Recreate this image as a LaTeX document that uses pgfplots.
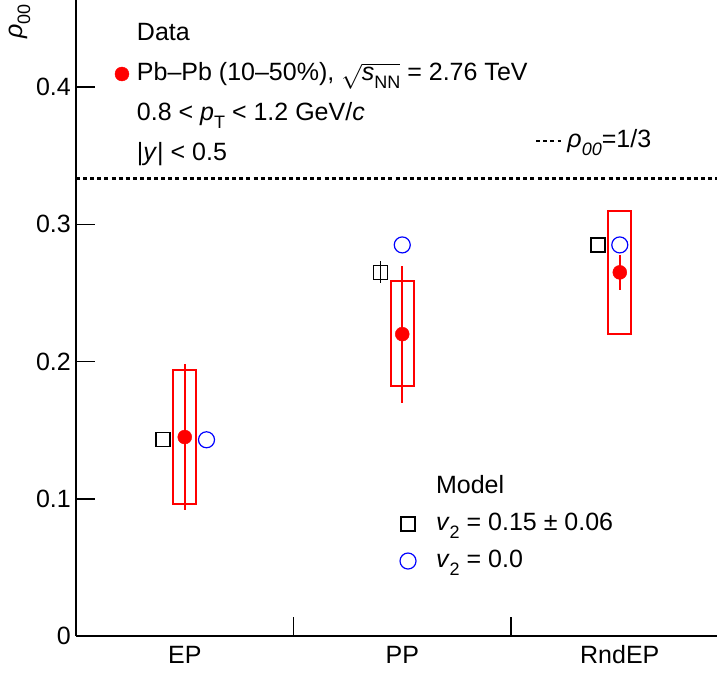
\documentclass[border=0pt]{standalone}
\usepackage{fontspec}
\setmainfont{Liberation Sans}
\usepackage{pgfplots}
\pgfplotsset{compat=1.18}
\newcommand\bigf{\fontsize{25bp}{30bp}\selectfont}
\newcommand\sub[1]{\raisebox{-0.32em}{\fontsize{18bp}{18bp}\selectfont #1}}
\pgfplotsset{common/.style={
  scale only axis, width=641bp, height=636bp,
  at={(76bp,37bp)}, anchor=south west,
  xmin=0, xmax=2.947, ymin=0, ymax=0.4635,
  legend cell align=left,
}}
\begin{document}
\begin{tikzpicture}
\begin{axis}[common,
  axis x line=bottom, axis y line=left,
  axis line style={-, line width=1.6bp},
  tick align=inside, xtick align=inside, ytick align=inside,
  major tick length=19bp, minor tick length=19bp,
  tick style={black, line width=1.6bp},
  ytick={0,0.1,0.2,0.3,0.4}, yticklabels={0,0.1,0.2,0.3,0.4},
  xtick={0.5,1.5,2.5}, xticklabels={EP,PP,RndEP},
  major x tick style={draw=none},
  minor xtick={1,2},
  tick label style={font=\bigf},
  yticklabel style={inner sep=0pt, xshift=-5bp},
  xticklabel style={anchor=base, inner sep=0pt, yshift=-27bp},
  ylabel={\textit{ρ}\sub{00}},
  every axis y label/.style={at={(axis description cs:0,1)}, xshift=-54bp, yshift=-4bp, rotate=90, anchor=base east, inner sep=0pt, font=\bigf},
  legend style={at={(axis description cs:0.0608,0.9654)}, anchor=north west,
    draw=none, fill=none, inner sep=0pt, outer sep=0pt, font=\bigf,
    nodes={inner sep=0pt, text height=18bp, text depth=6bp},
    row sep=16bp, column sep=8bp},
  legend image code/.code={\draw[mark repeat=2,mark phase=2,#1] plot coordinates {(0bp,0bp) (7bp,0bp) (14bp,0bp)};},
]
% systematic boxes
\addplot[red, line width=2bp, forget plot] coordinates {(0.448,0.096) (0.552,0.096) (0.552,0.194) (0.448,0.194) (0.448,0.096)} -- cycle;
\addplot[red, line width=2bp, forget plot] coordinates {(1.448,0.182) (1.552,0.182) (1.552,0.259) (1.448,0.259) (1.448,0.182)} -- cycle;
\addplot[red, line width=2bp, forget plot] coordinates {(2.448,0.220) (2.552,0.220) (2.552,0.310) (2.448,0.310) (2.448,0.220)} -- cycle;
\addlegendimage{empty legend}
\addlegendentry{Data}
\addplot[only marks, mark=*, mark size=7bp, red,
  error bars/.cd, y dir=both, y explicit, error mark=none,
  error bar style={line width=2bp, red}]
  coordinates {(0.5,0.145) +- (0,0.053) (1.5,0.220) +- (0,0.050) (2.5,0.265) +- (0,0.0125)};
\addlegendentry{Pb–Pb (10–50\%), $\sqrt{\mbox{\textit{s}\sub{NN}}}$ = 2.76 TeV}
\addlegendimage{empty legend}
\addlegendentry{0.8 < \textit{p}\sub{T} < 1.2 GeV/\textit{c}}
\addlegendimage{empty legend}
\addlegendentry{|\textit{y}| < 0.5}
\end{axis}
\begin{axis}[common, hide axis,
  legend style={at={(axis description cs:0.5055,0.2531)}, anchor=north west,
    draw=none, fill=none, inner sep=0pt, outer sep=0pt, font=\bigf,
    nodes={inner sep=0pt, text height=18bp, text depth=6bp},
    row sep=13bp, column sep=20bp},
  legend image code/.code={\draw[mark repeat=2,mark phase=2,#1] plot coordinates {(0bp,0bp) (8bp,0bp) (16bp,0bp)};},
]
\addlegendimage{empty legend}
\addlegendentry{Model}
\addplot[only marks, mark=square, mark size=7bp, black, line width=1.3bp,
  error bars/.cd, y dir=both, y explicit, error mark=none,
  error bar style={line width=1.5bp, black}]
  coordinates {(0.4,0.143) +- (0,0) (1.4,0.265) +- (0,0.008) (2.4,0.285) +- (0,0)};
\addlegendentry{\textit{v}\sub{2} = 0.15 ± 0.06}
\addplot[only marks, mark=o, mark size=8bp, blue, line width=1.2bp]
  coordinates {(0.6,0.143) (1.5,0.285) (2.5,0.285)};
\addlegendentry{\textit{v}\sub{2} = 0.0}
\end{axis}
\begin{axis}[common, hide axis,
  legend style={at={(axis description cs:0.716,0.797)}, anchor=north west,
    draw=none, fill=none, inner sep=0pt, outer sep=0pt, font=\bigf,
    nodes={inner sep=0pt, text height=18bp, text depth=6bp},
    column sep=5bp},
  legend image code/.code={\draw[#1] (0bp,0bp) -- (25bp,0bp);},
]
\addplot[black, line width=2.5bp, dash pattern=on 4bp off 3.1bp]
  coordinates {(0,0.33333) (2.947,0.33333)};
\addlegendentry{\textit{ρ}\sub{\textit{00}}=1/3}
\end{axis}
\pgfresetboundingbox
\path (0,0) rectangle (717bp,673bp);
\end{tikzpicture}
\end{document}
